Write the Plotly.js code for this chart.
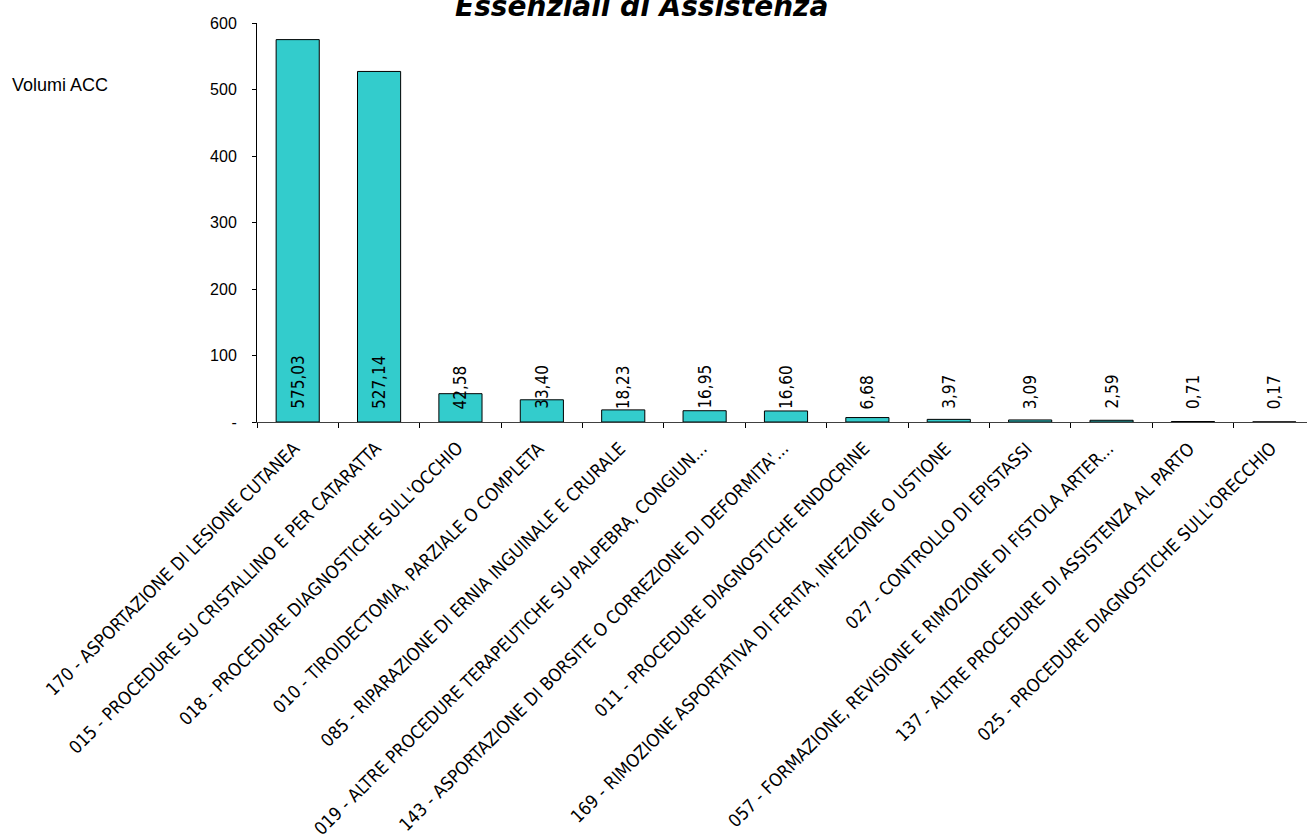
<!DOCTYPE html>
<html>
<head>
<meta charset="utf-8">
<script src="https://cdn.plot.ly/plotly-3.0.1.min.js"></script>
<style>
html, body { margin: 0; padding: 0; overflow: hidden; background: #fff; }
#chart { position: absolute; left: 0; top: 0; width: 1320px; height: 838px; }
</style>
</head>
<body>
<div id="chart"></div>
<script>
const categories = [
  "170 - ASPORTAZIONE DI LESIONE CUTANEA",
  "015 - PROCEDURE SU CRISTALLINO E PER CATARATTA",
  "018 - PROCEDURE DIAGNOSTICHE SULL'OCCHIO",
  "010 - TIROIDECTOMIA, PARZIALE O COMPLETA",
  "085 - RIPARAZIONE DI ERNIA INGUINALE E CRURALE",
  "019 - ALTRE PROCEDURE TERAPEUTICHE SU PALPEBRA, CONGIUN...",
  "143 - ASPORTAZIONE DI BORSITE O CORREZIONE DI DEFORMITA'...",
  "011 - PROCEDURE DIAGNOSTICHE ENDOCRINE",
  "169 - RIMOZIONE ASPORTATIVA DI FERITA, INFEZIONE O USTIONE",
  "027 - CONTROLLO DI EPISTASSI",
  "057 - FORMAZIONE, REVISIONE E RIMOZIONE DI FISTOLA ARTER...",
  "137 - ALTRE PROCEDURE DI ASSISTENZA AL PARTO",
  "025 - PROCEDURE DIAGNOSTICHE SULL'ORECCHIO"
];
const volumes = [575.03, 527.14, 42.58, 33.40, 18.23, 16.95, 16.60, 6.68, 3.97, 3.09, 2.59, 0.71, 0.17];
const yTickValues = [0, 100, 200, 300, 400, 500, 600];
const yTickLabels = ["-", "100", "200", "300", "400", "500", "600"];
const titleText = "Essenziali di Assistenza";
const yLabelText = "Volumi ACC";

const labelFont = "'DejaVu Sans Condensed', 'DejaVu Sans', sans-serif";

const trace = {
  type: "bar",
  x: categories,
  y: volumes,
  marker: { color: "#33CCCC", line: { color: "#000000", width: 1 } },
  hoverinfo: "skip"
};

// value labels, rotated, sitting at the base of each bar
const annotations = categories.map((c, i) => ({
  x: c, y: 0, xref: "x", yref: "y",
  text: volumes[i].toFixed(2).replace(".", ","),
  showarrow: false, textangle: -90,
  xanchor: "center", yanchor: "bottom", yshift: 11,
  font: { family: labelFont, size: 17, color: "#000" }
}));

// category labels, rotated 45 degrees, ending under each category centre
categories.forEach(c => annotations.push({
  x: c, y: 0, xref: "x", yref: "y",
  text: c, showarrow: false, textangle: -45,
  xanchor: "right", yanchor: "top", xshift: 9, yshift: -13,
  font: { family: labelFont, size: 18, color: "#000" }
}));

annotations.push({
  xref: "paper", yref: "paper", x: 0.363, y: 1, yshift: -2,
  xanchor: "center", yanchor: "bottom",
  text: "<b><i>" + titleText + "</i></b>", showarrow: false,
  font: { family: "'DejaVu Sans', sans-serif", size: 28, color: "#000" }
});
annotations.push({
  xref: "paper", yref: "paper", x: -0.2335, y: 0.845,
  xanchor: "left", yanchor: "middle",
  text: yLabelText, showarrow: false,
  font: { family: "'Liberation Sans', Arial, sans-serif", size: 18, color: "#000" }
});

const layout = {
  width: 1320, height: 838,
  margin: { l: 257, r: 5, t: 23, b: 416, pad: 0 },
  paper_bgcolor: "#fff", plot_bgcolor: "#fff",
  showlegend: false,
  bargap: 0.47,
  xaxis: {
    type: "category",
    range: [-0.5, categories.length - 0.5],
    autorange: false,
    tickson: "boundaries",
    ticks: "outside", ticklen: 5, tickcolor: "#000", tickwidth: 1,
    showline: true, linecolor: "#404040", linewidth: 1,
    showgrid: false, zeroline: false,
    showticklabels: false,
    automargin: false
  },
  yaxis: {
    range: [0, 600],
    autorange: false,
    tickmode: "array", tickvals: yTickValues, ticktext: yTickLabels,
    ticks: "outside", ticklen: 4, tickcolor: "#000", tickwidth: 1,
    showline: true, linecolor: "#000", linewidth: 1,
    showgrid: false, zeroline: false,
    ticklabelstandoff: 12,
    tickfont: { family: "'Liberation Sans', Arial, sans-serif", size: 16, color: "#000" },
    automargin: false
  },
  annotations: annotations
};

Plotly.newPlot("chart", [trace], layout, { staticPlot: true, displayModeBar: false });
</script>
</body>
</html>
